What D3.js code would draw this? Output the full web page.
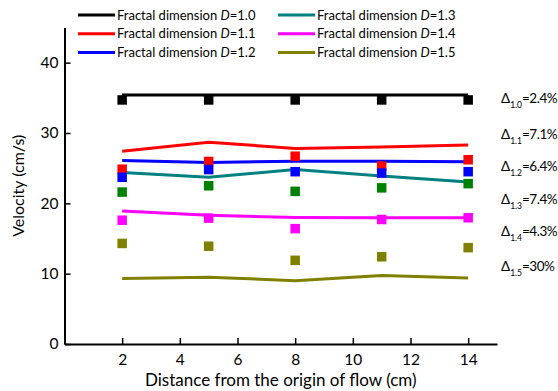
<!DOCTYPE html>
<html lang="en">
<head>
<meta charset="utf-8">
<script src="https://d3js.org/d3.v7.min.js"></script>
<style>
  body { margin: 0; background: #fff; }
  text { font-family: Lato, "Open Sans", sans-serif; }
</style>
</head>
<body>
<script>
  var width = 558;
  var height = 391;

  // distance along the flow (cm)
  var distances = [2, 5, 8, 11, 14];

  // model velocities (lines), cm/s
  var model_10 = [35.4, 35.4, 35.4, 35.4, 35.4];
  var model_11 = [27.4, 28.7, 27.8, 28.0, 28.3];
  var model_12 = [26.1, 25.8, 26.0, 26.0, 25.9];
  var model_13 = [24.4, 23.7, 24.8, 23.9, 23.05];
  var model_14 = [18.9, 18.3, 18.0, 17.95, 17.95];
  var model_15 = [9.3, 9.5, 9.0, 9.75, 9.4];

  // measured velocities (squares), cm/s
  var exp_10 = [34.7, 34.7, 34.7, 34.7, 34.7];
  var exp_11 = [24.85, 25.95, 26.7, 25.3, 26.2];
  var exp_12 = [23.7, 24.8, 24.5, 24.3, 24.5];
  var exp_13 = [21.6, 22.5, 21.7, 22.2, 22.8];
  var exp_14 = [17.6, 17.9, 16.4, 17.7, 17.95];
  var exp_15 = [14.3, 13.9, 11.9, 12.4, 13.7];

  var dims = ["1.0", "1.1", "1.2", "1.3", "1.4", "1.5"];
  var deltas = ["2.4%", "7.1%", "6.4%", "7.4%", "4.3%", "30%"];
  var xTicks = [2, 4, 6, 8, 10, 12, 14];
  var yTicks = [0, 10, 20, 30, 40];

  var models = [model_10, model_11, model_12, model_13, model_14, model_15];
  var exps = [exp_10, exp_11, exp_12, exp_13, exp_14, exp_15];
  var lineColors = ["#000000", "#ff0000", "#0000ff", "#008080", "#ff00ff", "#808000"];
  var dotColors  = ["#000000", "#ff0000", "#0000ff", "#008000", "#ff00ff", "#808000"];

  var svg = d3.select("body").append("svg")
              .attr("width", width)
              .attr("height", height);

  var x = d3.scaleLinear().domain([0, 15]).range([64.5, 497]);
  var y = d3.scaleLinear().domain([0, 45]).range([344, 27.5]);

  // axes, ticks pointing inward
  var gx = svg.append("g").attr("transform", "translate(0," + y(0) + ")");
  gx.call(d3.axisBottom(x).tickValues([1, 3, 5, 7, 9, 11, 13, 15]).tickSize(-3.5).tickSizeOuter(0).tickFormat(""));
  gx.call(d3.axisBottom(x).tickValues(xTicks).tickSize(-6).tickSizeOuter(0).tickPadding(10));

  var gy = svg.append("g").attr("transform", "translate(" + x(0) + ",0)");
  gy.call(d3.axisLeft(y).tickValues([5, 15, 25, 35, 45]).tickSize(-3.5).tickSizeOuter(0).tickFormat(""));
  gy.call(d3.axisLeft(y).tickValues(yTicks).tickSize(-6).tickSizeOuter(0).tickPadding(6));

  svg.selectAll(".domain").attr("stroke-width", 2);
  svg.selectAll(".tick line").attr("stroke-width", 1.5);
  svg.selectAll(".tick text").attr("font-size", 15.5).attr("fill", "#000")
     .attr("font-family", "Lato, sans-serif");

  svg.append("text")
     .attr("x", (x(0) + x(15)) / 2)
     .attr("y", 386)
     .attr("text-anchor", "middle")
     .attr("font-size", 17)
     .text("Distance from the origin of flow (cm)");

  svg.append("text")
     .attr("transform", "translate(24," + y(22.5) + ") rotate(-90)")
     .attr("text-anchor", "middle")
     .attr("font-size", 16)
     .text("Velocity (cm/s)");

  // model lines
  var line = d3.line()
               .x(function (d, i) { return x(distances[i]); })
               .y(function (d) { return y(d); });

  models.forEach(function (m, k) {
    svg.append("path")
       .attr("d", line(m))
       .attr("fill", "none")
       .attr("stroke", lineColors[k])
       .attr("stroke-width", 3);
  });

  // measured squares
  var sq = 9.5;
  exps.forEach(function (e, k) {
    svg.selectAll(null).data(e).enter().append("rect")
       .attr("x", function (d, i) { return x(distances[i]) - sq / 2; })
       .attr("y", function (d) { return y(d) - sq / 2; })
       .attr("width", sq)
       .attr("height", sq)
       .attr("fill", dotColors[k]);
  });

  // relative differences on the right
  var deltaY = [103, 139, 171, 204, 236, 271];
  dims.forEach(function (d, k) {
    var t = svg.append("text")
               .attr("x", 501)
               .attr("y", deltaY[k])
               .attr("font-size", 13.5);
    t.append("tspan").text("\u0394");
    t.append("tspan").attr("font-size", 8.5).attr("dy", 5).text(d);
    t.append("tspan").attr("dy", -5).attr("letter-spacing", -0.5).text("=" + deltas[k]);
  });

  // legend, two columns of three
  var legend = svg.append("g");
  dims.forEach(function (d, k) {
    var col = Math.floor(k / 3);
    var row = k % 3;
    var lx = col === 0 ? 78 : 278;
    var ly = 15 + row * 18.7;
    legend.append("line")
          .attr("x1", lx).attr("x2", lx + 37)
          .attr("y1", ly).attr("y2", ly)
          .attr("stroke", lineColors[k])
          .attr("stroke-width", 3);
    var t = legend.append("text")
                  .attr("x", lx + 39)
                  .attr("y", ly + 4.5)
                  .attr("font-size", 13);
    t.append("tspan").text("Fractal dimension ");
    t.append("tspan").attr("font-style", "italic").text("D");
    t.append("tspan").text("=" + d);
  });
</script>
</body>
</html>
